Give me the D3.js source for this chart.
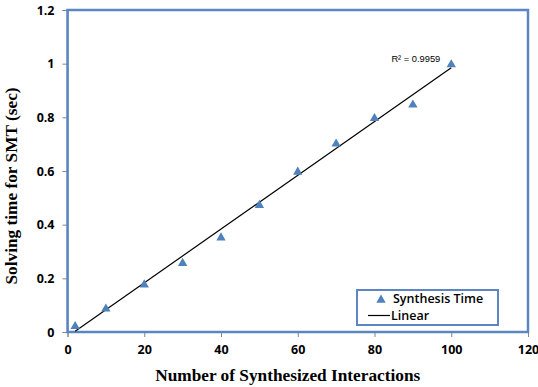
<!DOCTYPE html>
<html>
<head>
<meta charset="utf-8">
<script src="https://cdn.jsdelivr.net/npm/d3@7"></script>
<style>
  body { margin: 0; background: #fff; }
  .tick text { font-family: "Open Sans", "Liberation Sans", sans-serif; font-weight: bold; font-size: 12.5px; fill: #000; }
  .tick line { stroke: #868686; }
  .domain { stroke: #868686; }
  .title { font-family: "Liberation Serif", "Times New Roman", serif; font-weight: bold; font-size: 17.3px; }
</style>
</head>
<body>
<div id="chart"></div>
<script>
// data
var interactions = [2, 10, 20, 30, 40, 50, 60, 70, 80, 90, 100];
var solvingTime = [0.025, 0.09, 0.18, 0.26, 0.355, 0.476, 0.6, 0.705, 0.8, 0.85, 1.0];
var xTicks = [0, 20, 40, 60, 80, 100, 120];
var yTicks = [0, 0.2, 0.4, 0.6, 0.8, 1, 1.2];
var rSquared = "R\u00b2 = 0.9959";

var margin = {top: 10, right: 10, bottom: 55, left: 67.5},
    width = 538 - margin.left - margin.right,
    height = 387 - margin.top - margin.bottom;

var xScale = d3.scaleLinear().domain([0, 120]).range([0, width]);
var yScale = d3.scaleLinear().domain([0, 1.2]).range([height, 0]);

var svg = d3.select("#chart").append("svg")
    .attr("width", 538)
    .attr("height", 387)
  .append("g")
    .attr("transform", "translate(" + margin.left + "," + margin.top + ")");

// axes
svg.append("g")
    .attr("transform", "translate(0," + height + ")")
    .call(d3.axisBottom(xScale).tickValues(xTicks).tickSize(5).tickPadding(8).tickFormat(d3.format("d")));

svg.append("g")
    .call(d3.axisLeft(yScale).tickValues(yTicks).tickSize(5).tickPadding(8).tickFormat(function(d) { return d3.format("")(+d.toFixed(1)); }));

// blue frame of the plot area
svg.append("rect")
    .attr("x", 0).attr("y", 0)
    .attr("width", width).attr("height", height)
    .attr("fill", "none")
    .attr("stroke", "#5b86c2")
    .attr("stroke-width", 2.5);

// linear trend line (least squares on the points)
var data = interactions.map(function(x, i) { return {x: x, y: solvingTime[i]}; });
var mx = d3.mean(data, function(d) { return d.x; });
var my = d3.mean(data, function(d) { return d.y; });
var slope = d3.sum(data, function(d) { return (d.x - mx) * (d.y - my); }) /
            d3.sum(data, function(d) { return (d.x - mx) * (d.x - mx); });
var icpt = my - slope * mx;
var xMin = d3.min(interactions), xMax = d3.max(interactions);
var yAtMin = icpt + slope * xMin, xStart = xMin;
if (yAtMin < 0) { xStart = -icpt / slope; yAtMin = 0; }

svg.append("line")
    .attr("x1", xScale(xStart)).attr("y1", yScale(yAtMin))
    .attr("x2", xScale(xMax)).attr("y2", yScale(icpt + slope * xMax))
    .attr("stroke", "#000")
    .attr("stroke-width", 1.2);

// triangles
var tri = d3.symbol().type(d3.symbolTriangle).size(38);
svg.selectAll(".pt")
    .data(data)
  .enter().append("path")
    .attr("class", "pt")
    .attr("d", tri)
    .attr("transform", function(d) { return "translate(" + xScale(d.x) + "," + (yScale(d.y) + 1) + ")"; })
    .attr("fill", "#4f81bd");

svg.append("text")
    .attr("x", xScale(xMax) - 11)
    .attr("y", yScale(icpt + slope * xMax) - 6)
    .attr("text-anchor", "end")
    .style("font-family", "'Liberation Sans', sans-serif")
    .style("font-size", "9.3px")
    .text(rSquared);

// legend
var lg = svg.append("g").attr("transform", "translate(" + (357 - margin.left) + "," + (290 - margin.top) + ")");
lg.append("rect")
    .attr("width", 141).attr("height", 35)
    .attr("fill", "#fff")
    .attr("stroke", "#5b86c2")
    .attr("stroke-width", 2);
lg.append("path")
    .attr("d", tri)
    .attr("transform", "translate(24,10)")
    .attr("fill", "#4f81bd");
lg.append("line")
    .attr("x1", 11).attr("x2", 33).attr("y1", 25.5).attr("y2", 25.5)
    .attr("stroke", "#000").attr("stroke-width", 1.2);
lg.selectAll(".lt")
    .data(["Synthesis Time", "Linear"])
  .enter().append("text")
    .attr("x", function(d, i) { return i ? 34 : 36; })
    .attr("y", function(d, i) { return 13 + i * 17; })
    .style("font-family", "'Open Sans', 'Liberation Sans', sans-serif")
    .style("font-weight", "600")
    .style("font-size", "12.5px")
    .text(function(d) { return d; });

// axis titles
svg.append("text")
    .attr("class", "title")
    .attr("x", width / 2 - 10)
    .attr("y", height + 49)
    .attr("text-anchor", "middle")
    .text("Number of Synthesized Interactions");

svg.append("text")
    .attr("class", "title")
    .attr("transform", "rotate(-90)")
    .attr("x", -176)
    .attr("y", -51)
    .attr("text-anchor", "middle")
    .text("Solving time for SMT (sec)");
</script>
</body>
</html>
